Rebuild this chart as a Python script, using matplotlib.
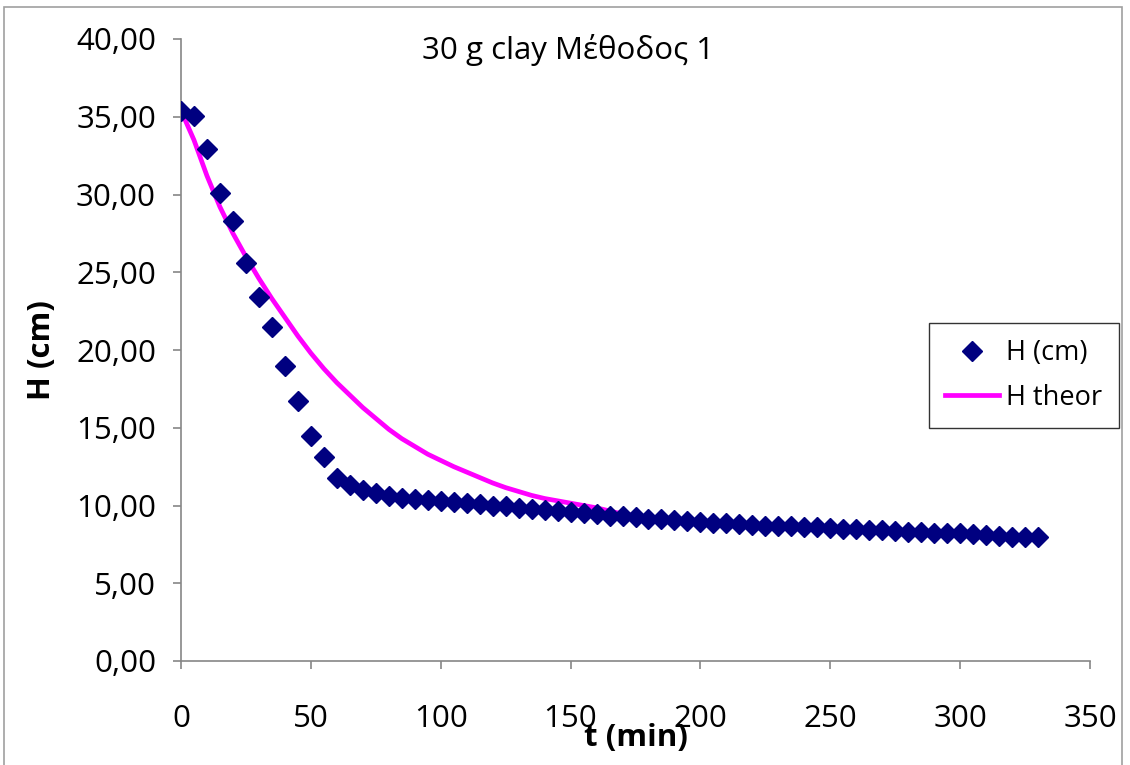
import matplotlib
matplotlib.use("Agg")
import matplotlib.pyplot as plt
from matplotlib.patches import Rectangle

plt.rcParams['font.family'] = ['Open Sans', 'DejaVu Sans']

t_meas = list(range(0, 335, 5))
h_meas = [35.4, 35.05, 32.9, 30.1, 28.3, 25.6, 23.4, 21.5, 19.0, 16.7,
          14.5, 13.1, 11.75, 11.3, 11.0, 10.8, 10.6, 10.5, 10.4, 10.35,
          10.3, 10.25, 10.15, 10.1, 10.0, 9.95, 9.85, 9.8, 9.7, 9.65,
          9.55, 9.5, 9.45, 9.35, 9.3, 9.25, 9.15, 9.1, 9.05, 9.0,
          8.95, 8.9, 8.85, 8.8, 8.75, 8.7, 8.7, 8.65, 8.6, 8.6,
          8.55, 8.5, 8.5, 8.45, 8.4, 8.35, 8.3, 8.3, 8.25, 8.2,
          8.2, 8.15, 8.1, 8.05, 8.0, 8.0, 7.95]

t_theor = [0, 5, 10, 15, 20, 25, 30, 35, 40, 45, 50, 55, 60, 65, 70, 75, 80,
           85, 90, 95, 100, 105, 110, 115, 120, 125, 130, 135, 140, 145, 150,
           155, 160, 170, 180, 190, 200, 220, 240, 260, 280, 300, 330]
h_theor = [35.4, 33.5, 31.2, 29.2, 27.5, 26.0, 24.6, 23.3, 22.1, 20.9, 19.8,
           18.8, 17.9, 17.1, 16.3, 15.6, 14.9, 14.3, 13.8, 13.3, 12.9, 12.5,
           12.15, 11.8, 11.45, 11.15, 10.9, 10.65, 10.45, 10.3, 10.15, 10.0,
           9.85, 9.45, 9.25, 9.1, 9.0, 8.8, 8.65, 8.5, 8.35, 8.2, 7.98]

x_ticks = [0, 50, 100, 150, 200, 250, 300, 350]
y_ticks = [0, 5, 10, 15, 20, 25, 30, 35, 40]
y_labels = ["0,00", "5,00", "10,00", "15,00", "20,00", "25,00", "30,00", "35,00", "40,00"]

W, H = 1130, 765
fig = plt.figure(figsize=(W / 100, H / 100), dpi=100)
ax = fig.add_axes([181 / W, 1 - 661 / H, (1090 - 181) / W, (661 - 39) / H])

ax.plot(t_theor, h_theor, color='#FF00FF', lw=3.4, label='H theor', zorder=2)
ax.plot(t_meas, h_meas, linestyle='none', marker='D', markersize=9.8,
        color='#000080', label='H (cm)', zorder=3)

ax.set_xlim(0, 350)
ax.set_ylim(0, 40)
ax.set_xticks(x_ticks)
ax.set_yticks(y_ticks)
ax.set_yticklabels(y_labels)

gray = '#868686'
for s in ['top', 'right']:
    ax.spines[s].set_visible(False)
for s in ['left', 'bottom']:
    ax.spines[s].set_color(gray)
    ax.spines[s].set_linewidth(1.2)
ax.tick_params(axis='both', colors=gray, direction='out', length=6, width=1.2,
               labelsize=22.5, labelcolor='black')
ax.tick_params(axis='x', pad=25)
ax.tick_params(axis='y', pad=12)

fig.text(568 / W, 1 - 50 / H, "30 g clay Μέθοδος 1", ha='center', va='center', fontsize=22.5)
fig.text(42 / W, 1 - 350 / H, "H (cm)", ha='center', va='center', rotation=90,
         fontsize=22.5, fontweight='bold')
fig.text(636 / W, 1 - 738 / H, "t (min)", ha='center', va='center',
         fontsize=22.5, fontweight='bold')

handles, labels = ax.get_legend_handles_labels()
leg = fig.legend([handles[1], handles[0]], [labels[1], labels[0]],
                 loc='upper left', bbox_to_anchor=(929 / W, 1 - 323 / H),
                 borderaxespad=0, fontsize=19.5, frameon=True, fancybox=False,
                 borderpad=0.6, handlelength=2.0, handletextpad=0.25,
                 labelspacing=0.6)
leg.get_frame().set_edgecolor('black')
leg.get_frame().set_linewidth(1.0)

fig.patches.append(Rectangle((4 / W, -0.05), (1122 - 4) / W, (1 - 7 / H) + 0.05,
                             transform=fig.transFigure, fill=False,
                             edgecolor='#A0A0A0', linewidth=1.2))

fig.savefig('out.png', dpi=100)
